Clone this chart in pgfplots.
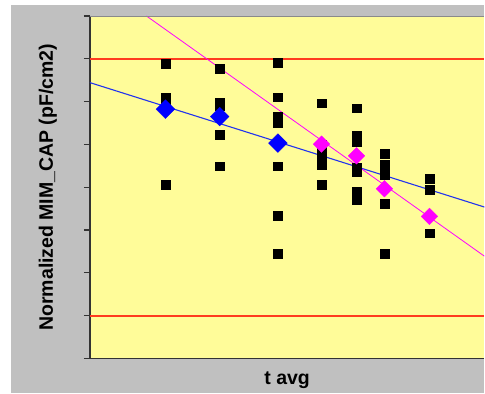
\documentclass[border=0pt]{standalone}
\usepackage{pgfplots}
\pgfplotsset{compat=1.18}
\usepackage{fontspec}
\setmainfont{Liberation Sans}
\definecolor{bggray}{HTML}{C0C0C0}
\definecolor{plotyellow}{HTML}{FFFC99}
\definecolor{refline}{HTML}{FF3B1F}
\definecolor{axisdark}{HTML}{333333}
\definecolor{topline}{HTML}{8A8A8A}
\definecolor{dblue}{HTML}{0000FF}
\definecolor{lblue}{HTML}{2233EE}
\definecolor{mag}{HTML}{FF00FF}
\begin{document}
\begin{tikzpicture}[x=1pt,y=1pt]
\fill[white] (0,0) rectangle (485,394);
\fill[bggray] (11,0) rectangle (485,389);
\begin{axis}[
  at={(90pt,35pt)}, anchor=south west,
  width=395pt, height=343pt, scale only axis,
  xmin=0, xmax=10, ymin=0, ymax=8,
  axis x line*=bottom, axis y line*=left,
  axis line style={axisdark, line width=1.3pt},
  axis background/.style={fill=plotyellow},
  xtick=\empty,
  ytick={0,1,...,8}, yticklabels={},
  tick align=outside, major tick length=6pt,
  tick style={axisdark, line width=1.2pt},
  xlabel={t avg}, ylabel={Normalized MIM\_CAP (pF/cm2)},
  label style={font=\bfseries\fontsize{19.5}{23}\selectfont},
  xlabel style={at={(axis description cs:0.5,0)}, anchor=base, yshift=-26pt},
  ylabel style={at={(axis description cs:-0.1063,0.5)}, anchor=center, rotate=0},
  clip=true,
]
% spec limits
\addplot[refline, line width=1.6pt] coordinates {(0,7) (10,7)};
\addplot[refline, line width=1.6pt] coordinates {(0,1) (10,1)};
% raw data
\addplot[only marks, mark=square*, mark size=4.3pt, mark options={fill=black, draw=black, line width=0.3pt}] coordinates {
 (1.916,6.880) (1.916,6.106) (1.916,5.924) (1.916,4.063)
 (3.291,6.769) (3.291,5.971) (3.291,5.901) (3.291,5.232) (3.291,4.497)
 (4.767,6.908) (4.767,6.106) (4.767,5.661) (4.767,5.511) (4.767,4.497) (4.767,3.331) (4.767,2.448)
 (5.873,5.964) (5.873,4.991) (5.873,4.758) (5.873,4.525) (5.873,4.065)
 (6.759,5.847) (6.759,5.218) (6.759,5.061) (6.759,4.455) (6.759,4.362) (6.759,3.911) (6.759,3.701)
 (7.468,4.786) (7.468,4.532) (7.468,4.408) (7.468,4.285) (7.468,3.622) (7.468,2.454)
 (8.608,4.205) (8.608,3.949) (8.608,2.927)
};
% means
\addplot[only marks, mark=square*, mark size=6.7pt, mark options={rotate=45, fill=dblue, draw=dblue, line width=0.2pt}] coordinates {
 (1.916,5.824) (3.291,5.651) (4.767,5.031)
};
\addplot[only marks, mark=square*, mark size=5.9pt, mark options={rotate=45, fill=mag, draw=mag, line width=0.2pt}] coordinates {
 (5.873,5.008) (6.759,4.735) (7.468,3.965) (8.608,3.319)
};
% trend lines
\addplot[lblue, line width=1.1pt] coordinates {(0,6.444) (10,3.538)};
\addplot[mag, line width=0.8pt] coordinates {(1.435,8) (10,2.391)};
\draw[topline, line width=0.9pt] (rel axis cs:0,1) -- (rel axis cs:1,1);
\end{axis}
\end{tikzpicture}
\end{document}
